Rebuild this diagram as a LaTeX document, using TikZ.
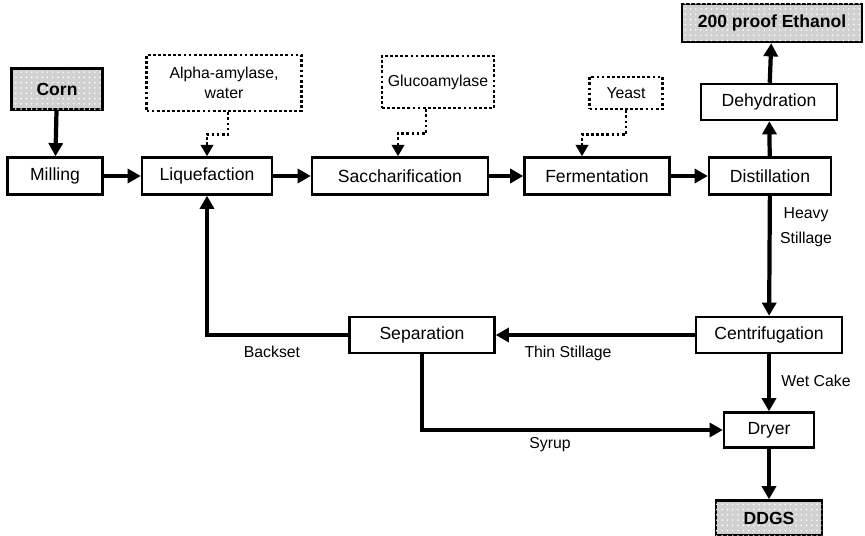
\documentclass[tikz,border=0pt]{standalone}
\usepackage{fontspec}
\setmainfont{Liberation Sans}
\usepackage{tikz}
\usetikzlibrary{arrows.meta}
\usetikzlibrary{calc}
\usetikzlibrary{patterns}
\usetikzlibrary{positioning}

\tikzset{
  proc/.style={draw, line width=1.4pt, fill=white, minimum height=0.74cm,
    inner sep=2pt, font=\fontsize{10}{12}\selectfont},
  prod/.style={proc, fill=black!18, postaction={pattern=dots, pattern color=white},
    font=\fontsize{10}{12}\selectfont\bfseries},
  feed/.style={draw, line width=1.6pt, dash pattern=on 1.6pt off 1.3pt,
    align=center, inner sep=2pt, font=\fontsize{9}{11}\selectfont},
  flow/.style={line width=2.4pt, -{Triangle[length=7.5pt,width=8pt]}},
  dflow/.style={line width=1.6pt, dash pattern=on 1.6pt off 1.3pt,
    -{Triangle[length=6.5pt,width=7pt]}},
  lbl/.style={align=center, inner sep=0pt, font=\fontsize{9}{11}\selectfont},
}

\begin{document}
\begin{tikzpicture}[x=0.02cm, y=-0.02cm]
  \useasboundingbox (0,0) rectangle (865,536);

  % main line
  \node[prod, minimum width=1.82cm, minimum height=0.82cm] (corn) at (57,89) {Corn};
  \node[proc, minimum width=1.9cm] (mill) at (55,176) {Milling};
  \node[proc, minimum width=2.6cm] (liq) at (207,176) {Liquefaction};
  \node[proc, minimum width=3.52cm] (sacc) at (400,176) {Saccharification};
  \node[proc, minimum width=2.9cm] (ferm) at (597,176) {Fermentation};
  \node[proc, minimum width=2.44cm] (dist) at (770,176) {Distillation};
  \node[proc, minimum width=2.72cm, minimum height=0.72cm] (dehy) at (769,102) {Dehydration};
  \node[prod, minimum width=3.6cm, minimum height=0.76cm] (ethanol) at (772,23) {200 proof Ethanol};

  % inputs
  \node[feed, minimum width=3.1cm, minimum height=1.12cm] (alpha) at (224,83) {Alpha-amylase,\\water};
  \node[feed, minimum width=2.24cm, minimum height=1.04cm] (gluco) at (438,82) {Glucoamylase};
  \node[feed, minimum width=1.46cm, minimum height=0.64cm] (yeast) at (626,93) {Yeast};

  % back end
  \node[proc, minimum width=2.92cm, minimum height=0.72cm] (centr) at (769,335) {Centrifugation};
  \node[proc, minimum width=2.9cm, minimum height=0.72cm] (sep) at (422,335) {Separation};
  \node[proc, minimum width=1.8cm, minimum height=0.7cm] (dryer) at (769,430) {Dryer};
  \node[prod, minimum width=2.12cm, minimum height=0.7cm] (ddgs) at (769,518) {DDGS};

  % stream labels
  \node[lbl] (heavy) at (806,227) {Heavy\\[3pt]Stillage};
  \node[lbl] (thin) at (568,353) {Thin Stillage};
  \node[lbl] (backset) at (272,352) {Backset};
  \node[lbl] (wetcake) at (816,381) {Wet Cake};
  \node[lbl] (syrup) at (550,445) {Syrup};

  \draw[flow] (corn) -- (mill);
  \draw[flow] (mill) -- (liq);
  \draw[flow] (liq) -- (sacc);
  \draw[flow] (sacc) -- (ferm);
  \draw[flow] (ferm) -- (dist);
  \draw[flow] (dist) -- (dehy);
  \draw[flow] (dehy) -- (ethanol);
  \draw[flow] (dist) -- (centr);
  \draw[flow] (centr) -- (sep);
  \draw[flow] (centr) -- (dryer);
  \draw[flow] (dryer) -- (ddgs);
  \draw[flow] (sep.west) -| (liq.south);
  \draw[flow] (sep.south) |- (dryer.west);

  \draw[dflow] ($(alpha.south)+(4,0)$) -- ++(0,22) -| (liq.north);
  \draw[dflow] ($(gluco.south)+(-12,0)$) -- ++(0,24) -| ($(sacc.north)+(-2,0)$);
  \draw[dflow] (yeast.south) -- ++(0,24) -| ($(ferm.north)+(-15,0)$);
\end{tikzpicture}
\end{document}
